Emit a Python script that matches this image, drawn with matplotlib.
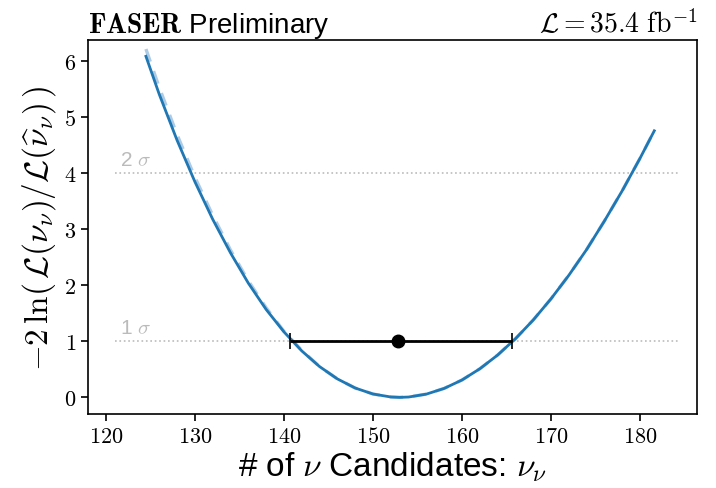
import numpy as np
import matplotlib
matplotlib.use('Agg')
import matplotlib.pyplot as plt
from matplotlib.ticker import FuncFormatter

plt.rcParams['mathtext.fontset'] = 'cm'
plt.rcParams['font.family'] = ['Liberation Sans', 'DejaVu Sans']

# likelihood scan
nu = [124.5, 126, 128, 130, 132, 134, 136, 138, 140, 142, 144, 146, 148, 150,
      152, 153, 154, 156, 158, 160, 162, 164, 166, 168, 170, 172, 174, 176,
      178, 180, 181.6]
nll = [6.09, 5.41, 4.59, 3.85, 3.18, 2.58, 2.04, 1.57, 1.17, 0.83, 0.55, 0.33,
       0.167, 0.06, 0.007, 0.0, 0.006, 0.058, 0.16, 0.31, 0.51, 0.755, 1.046,
       1.381, 1.76, 2.18, 2.64, 3.15, 3.69, 4.27, 4.76]
# light dashed curve (visible only on the left side)
nll_dash = [6.22, 5.53, 4.69, 3.93, 3.25, 2.63, 2.08, 1.60, 1.18, 0.84, 0.55,
            0.33, 0.167, 0.06, 0.007, 0.0, 0.006, 0.058, 0.16, 0.31, 0.51,
            0.755, 1.046, 1.381, 1.76, 2.18, 2.64, 3.15, 3.69, 4.27, 4.76]

best_fit = 152.8
err_lo = 140.7
err_hi = 165.6
sigma_levels = [1, 4]
sigma_labels = ['1 $\\sigma$', '2 $\\sigma$']
line_range = [121.0, 184.5]

fig = plt.figure(figsize=(7.16, 4.89), dpi=100)
ax = fig.add_axes([0.123, 0.151, 0.8505, 0.765])

for lvl, lab in zip(sigma_levels, sigma_labels):
    ax.plot(line_range, [lvl, lvl], ls=':', color='#bbbbbb', lw=1.2, zorder=1)
    ax.text(121.6, lvl + 0.08, lab, color='#bbbbbb', fontsize=15,
            ha='left', va='bottom')

ax.plot(nu, nll_dash, ls=(0, (4, 3)), color='#aecbe6', lw=2.4, zorder=2)
ax.plot(nu, nll, color='#1f77b4', lw=2, zorder=3)

ax.errorbar([best_fit], [1], xerr=[[best_fit - err_lo], [err_hi - best_fit]],
            fmt='o', color='black', ms=9, lw=2, capsize=6, capthick=1.2,
            zorder=4)

ax.set_xlim(118, 186.4)
ax.set_ylim(-0.3, 6.38)
ax.set_xticks([120, 130, 140, 150, 160, 170, 180])
ax.set_yticks([0, 1, 2, 3, 4, 5, 6])
ax.xaxis.set_major_formatter(FuncFormatter(lambda v, p: f'${v:g}$'))
ax.yaxis.set_major_formatter(FuncFormatter(lambda v, p: f'${v:g}$'))
ax.tick_params(labelsize=16, length=5, width=1.2)
for s in ax.spines.values():
    s.set_linewidth(1.2)

ax.set_xlabel('# of $\\nu$ Candidates: $\\nu_\\nu$', fontsize=24, labelpad=2)
ax.set_ylabel('$-2\\,\\ln(\\,\\mathcal{L}(\\nu_\\nu)/\\mathcal{L}(\\widehat{\\nu}_\\nu)\\,)$',
              fontsize=24, labelpad=4)
ax.set_title('$\\mathbf{FASER}$ Preliminary', loc='left', fontsize=20, pad=6)
ax.set_title('$\\mathcal{L} = 35.4\\ \\mathrm{fb}^{-1}$', loc='right',
             fontsize=20, pad=6)

fig.savefig('out.png', dpi=100)
